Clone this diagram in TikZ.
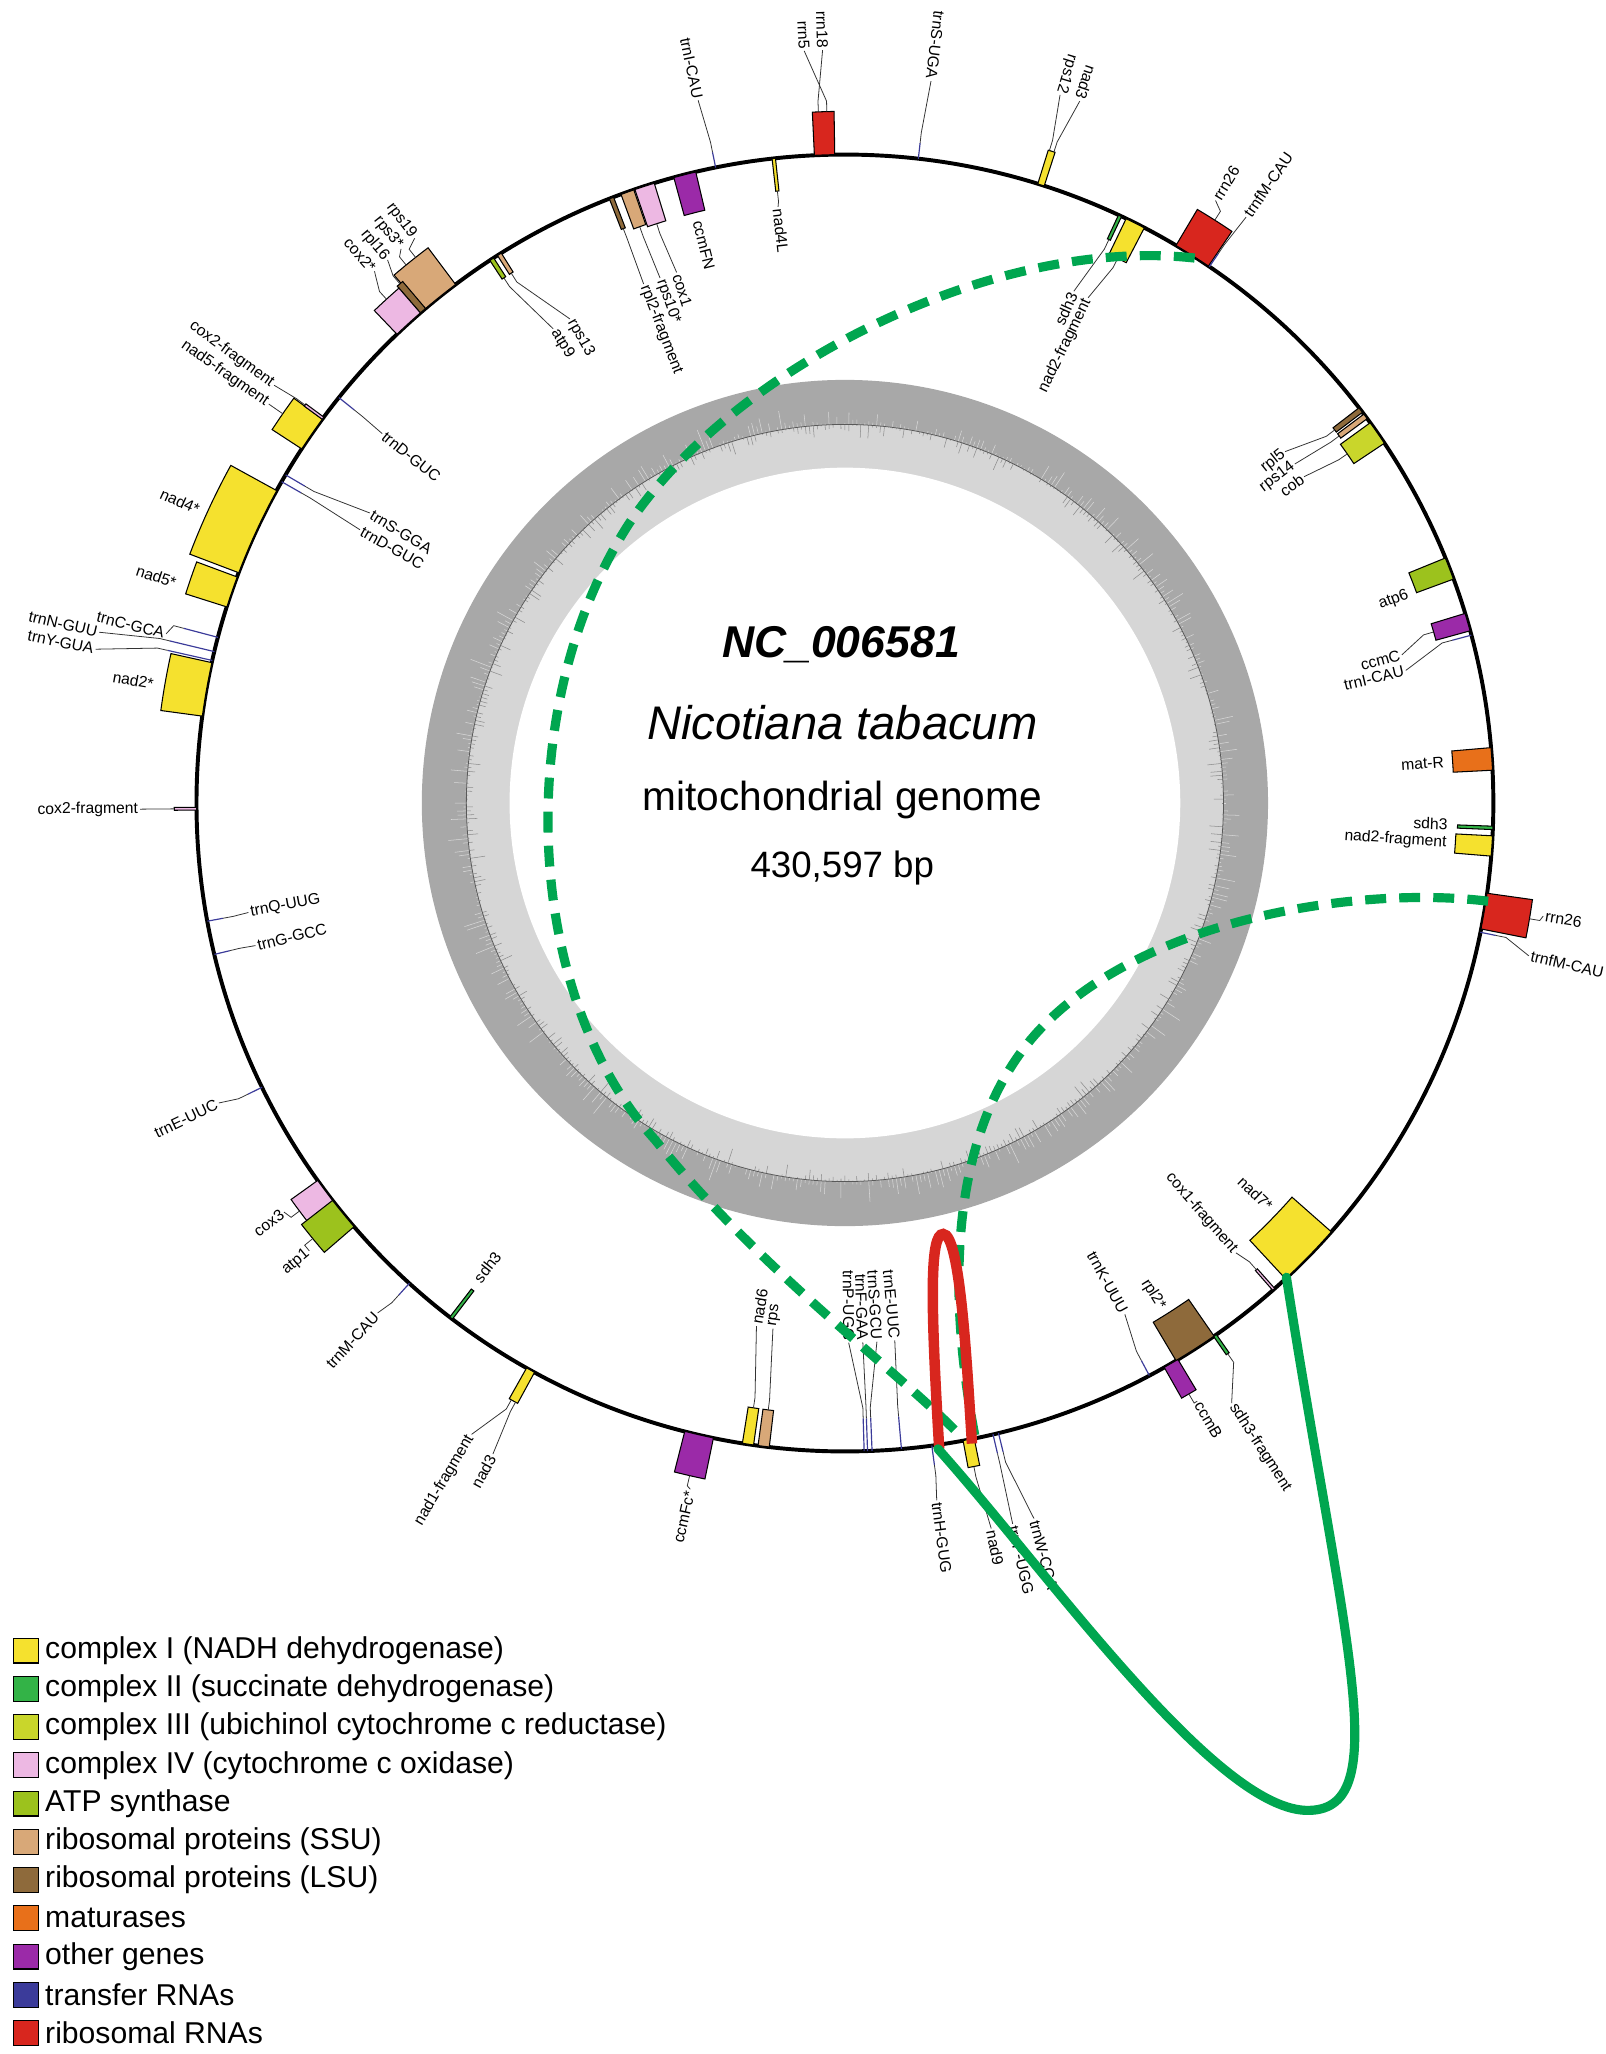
\documentclass[tikz,border=0pt]{standalone}
\usepackage{fontspec}
\setmainfont{Liberation Sans}
\definecolor{cI}{HTML}{F5E12E}
\definecolor{cII}{HTML}{33B347}
\definecolor{cIII}{HTML}{C9D62B}
\definecolor{cIV}{HTML}{EDB8E3}
\definecolor{atp}{HTML}{9CC21D}
\definecolor{ssu}{HTML}{D8A878}
\definecolor{lsu}{HTML}{8E6A3B}
\definecolor{mat}{HTML}{E8701A}
\definecolor{oth}{HTML}{9B2AA8}
\definecolor{trn}{HTML}{3B3B9A}
\definecolor{rrna}{HTML}{D8261E}
\definecolor{gdark}{HTML}{A8A8A8}
\definecolor{glight}{HTML}{D6D6D6}
\definecolor{gline}{HTML}{00A650}
\tikzset{
 lab/.style={inner sep=1.5pt,font=\fontsize{12}{14}\selectfont},
 leader/.style={line width=0.6pt,black!80},
 genebox/.style={draw=black,line width=0.8pt},
 trnline/.style={draw=trn,line width=0.9pt},
 legbox/.style={draw=black,line width=0.8pt,minimum size=19pt,inner sep=0pt},
 legtext/.style={anchor=west,font=\fontsize{23}{26}\selectfont},
}
\newcommand\gbox[5]{\filldraw[genebox,fill=#5] (#1-#2:#3) arc[start angle=#1-#2,end angle=#1+#2,radius=#3] -- (#1+#2:#4) arc[start angle=#1+#2,end angle=#1-#2,radius=#4] -- cycle;}
\newcommand\trna[3]{\draw[trnline] (#1:#2) -- (#1:#3);}
\newcommand\placelab[4]{%
 \pgfmathsetmacro\ca{cos(#1)}\pgfmathsetmacro\sa{sin(#1)}%
 \pgfmathtruncatemacro\flip{#3>0 ? or(\ca<0,\sa>0.92) : (\ca<0)}%
 \pgfmathtruncatemacro\inw{#3<0?1:0}%
 \pgfmathsetmacro\rot{\flip==1?#1+180:#1}%
 \ifnum\flip=\inw\def\anc{west}\else\def\anc{east}\fi
 \node[lab,rotate=\rot,anchor=\anc] at (#1:#2) {#4};}
\newcommand\glab[5]{%
 \pgfmathtruncatemacro\dd{#4>#2?1:-1}%
 \pgfmathsetmacro\rmid{#2+\dd*8}%
 \draw[leader] (#1:#2) -- (#1:\rmid) -- (#3:#4);
 \placelab{#3}{#4}{\dd}{#5}}
\newcommand\nlab[4]{\placelab{#1}{#2}{#3}{#4}}
\begin{document}
\begin{tikzpicture}[x=1pt,y=1pt]
\useasboundingbox (0,0) rectangle (1226,-1568);
\begin{scope}[shift={(645,-613)}]
% GC ring
\fill[gdark] (0,0) circle[radius=323];
\fill[glight] (0,0) circle[radius=289];
\fill[white] (0,0) circle[radius=256];
\pgfmathsetseed{7}
\foreach \a in {0,0.6,...,359.4}{
 \pgfmathsetmacro\h{rnd*rnd*18}
 \draw[white!70!gray,line width=0.4pt] (\a:289) -- (\a:289+\h);
 \pgfmathsetmacro\k{rnd*rnd*12}
 \draw[gray!90,line width=0.4pt] (\a:289) -- (\a:289-\k);
}
\draw[gray!70!black,line width=0.6pt] (0,0) circle[radius=289];
% main circle
\draw[line width=3pt] (0,0) circle[radius=495];
% ---- outside features
\gbox{91.8}{0.9}{495}{528}{rrna}
\glab{92.2}{528}{91.7}{575}{rrn18}
\glab{91.5}{528}{93.1}{575}{rrn5}
\trna{101.5}{495}{507}
\glab{101.5}{507}{101.8}{548}{trnI-CAU}
\trna{83.5}{495}{507}
\glab{83.5}{507}{83.2}{555}{trnS-UGA}
\gbox{72.4}{0.3}{495}{522}{cI}
\glab{72.6}{522}{73.1}{565}{rps12}
\glab{72.2}{522}{71.5}{565}{nad3}
\gbox{57.6}{1.7}{495}{527}{rrna}
\trna{55.8}{495}{507}
\glab{57.6}{527}{58.4}{540}{rrn26}
\glab{55.8}{507}{55.6}{542}{trnfM-CAU}
\gbox{-9.6}{1.6}{495}{530}{rrna}
\trna{-11.5}{495}{507}
\glab{-9.6}{530}{-9.2}{540}{rrn26}
\glab{-11.5}{507}{-12.6}{535}{trnfM-CAU}
\gbox{-59.8}{0.7}{495}{522}{oth}
\glab{-59.8}{522}{-59.5}{530}{ccmB}
\gbox{-55.2}{0.15}{495}{512}{cII}
\glab{-55.2}{512}{-57.2}{545}{sdh3-fragment}
\gbox{281}{0.5}{495}{516}{cI}
\trna{283.2}{495}{510}
\trna{283.7}{495}{510}
\trna{277.7}{495}{510}
\glab{277.7}{510}{277.5}{537}{trnH-GUG}
\glab{281}{516}{281.4}{565}{nad9}
\glab{283.2}{510}{283.1}{565}{trnP-UGG}
\glab{283.7}{510}{284.8}{565}{trnW-CCA}
\gbox{257}{1.3}{495}{527}{oth}
\glab{257}{527}{257.3}{537}{ccmFc*}
\gbox{241}{0.4}{495}{522}{cI}
\glab{241.2}{522}{241.6}{565}{nad3}
\glab{240.8}{522}{239.4}{560}{nad1-fragment}
\trna{227.8}{495}{507}
\glab{227.8}{507}{227.5}{528}{trnM-CAU}
\gbox{216.8}{1.2}{495}{520}{cIV}
\gbox{219.3}{1.5}{495}{525}{atp}
\glab{216.8}{520}{216.1}{530}{cox3}
\glab{219.3}{525}{219.9}{533}{atp1}
\trna{206}{495}{507}
\glab{206}{507}{205.6}{530}{trnE-UUC}
\gbox{180.5}{0.12}{495}{512}{cIV}
\glab{180.5}{512}{180.5}{538}{cox2-fragment}
\gbox{169.9}{2.4}{495}{527}{cI}
\nlab{170.2}{534}{1}{nad2*}
\trna{165.2}{495}{522}
\glab{165.2}{522}{166.0}{534}{trnC-GCA}
\trna{166.5}{495}{530}
\glab{166.5}{530}{167.1}{584}{trnN-GUU}
\trna{167.3}{495}{530}
\glab{167.3}{530}{168.4}{584}{trnY-GUA}
\gbox{161}{1.4}{495}{528}{cI}
\nlab{161.8}{536}{1}{nad5*}
\gbox{155.2}{4.0}{495}{535}{cI}
\nlab{155.6}{540}{1}{nad4*}
\gbox{145.3}{1.6}{495}{522}{cI}
\gbox{143.6}{0.12}{495}{512}{cIV}
\glab{143.6}{512}{143.8}{540}{cox2-fragment}
\glab{145.3}{522}{145.3}{535}{nad5-fragment}
\gbox{128.7}{1.8}{495}{530}{ssu}
\gbox{130.6}{0.3}{495}{522}{lsu}
\gbox{132.3}{1.4}{495}{520}{cIV}
\glab{128.2}{530}{127.3}{542}{rps19}
\glab{129.2}{530}{128.7}{542}{rps3*}
\glab{130.6}{522}{130.1}{542}{rpl16}
\glab{132.3}{520}{131.5}{542}{cox2*}
% ---- inside features
\gbox{122.2}{0.2}{478}{495}{ssu}
\gbox{123}{0.2}{478}{495}{atp}
\glab{122.2}{478}{119.6}{425}{rps13}
\glab{123}{478}{121.6}{425}{atp9}
\gbox{108}{0.9}{465}{495}{cIV}
\gbox{109.6}{0.6}{467}{495}{ssu}
\gbox{111.1}{0.2}{470}{495}{lsu}
\glab{108}{465}{107.6}{425}{cox1}
\glab{109.6}{467}{109.4}{425}{rps10*}
\glab{111.1}{470}{111.2}{425}{rpl2-fragment}
\gbox{104.3}{1}{465}{495}{oth}
\nlab{104.2}{460}{-1}{ccmFN}
\gbox{96.3}{0.15}{470}{495}{cI}
\glab{96.3}{470}{96.4}{458}{nad4L}
\gbox{64.9}{0.15}{475}{495}{cII}
\gbox{63.4}{0.9}{465}{495}{cI}
\glab{64.9}{475}{65.9}{428}{sdh3}
\glab{63.4}{465}{64.3}{428}{nad2-fragment}
\gbox{37.3}{0.25}{470}{495}{lsu}
\gbox{36.6}{0.25}{470}{495}{ssu}
\gbox{34.8}{1.1}{467}{495}{cIII}
\glab{37.3}{470}{38.6}{430}{rpl5}
\glab{36.6}{470}{37.0}{430}{rps14}
\glab{34.8}{467}{35.4}{430}{cob}
\gbox{21.2}{1}{465}{495}{atp}
\nlab{20.3}{460}{-1}{atp6}
\gbox{16.2}{0.8}{468}{495}{oth}
\trna{15}{480}{495}
\glab{16.2}{468}{14.9}{440}{ccmC}
\glab{15}{480}{13.3}{440}{trnI-CAU}
\gbox{3.9}{1}{465}{495}{mat}
\nlab{3.9}{460}{-1}{mat-R}
\gbox{-2.2}{0.15}{468}{495}{cII}
\gbox{-3.8}{0.9}{467}{495}{cI}
\nlab{-2.0}{462}{-1}{sdh3}
\nlab{-3.8}{462}{-1}{nad2-fragment}
\gbox{-44.3}{2.9}{455}{495}{cI}
\nlab{-43.6}{450}{-1}{nad7*}
\gbox{-48.6}{0.12}{475}{495}{cIV}
\glab{-48.6}{475}{-49.0}{455}{cox1-fragment}
\gbox{-57.3}{2}{461}{495}{lsu}
\nlab{-57.9}{457}{-1}{rpl2*}
\trna{-62}{482}{495}
\glab{-62}{482}{-61.3}{445}{trnK-UUU}
\gbox{261.4}{0.5}{467}{495}{cI}
\gbox{262.8}{0.5}{467}{495}{ssu}
\glab{261.4}{467}{260.4}{405}{nad6}
\glab{262.8}{467}{262.2}{405}{rps}
\trna{271.7}{470}{495}
\trna{272.0}{470}{495}
\trna{272.4}{470}{495}
\trna{275.0}{470}{495}
\glab{271.7}{470}{270.4}{412}{trnP-UGG}
\glab{272.0}{470}{271.9}{412}{trnF-GAA}
\glab{272.4}{470}{273.4}{412}{trnS-GCU}
\glab{275.0}{470}{275.3}{412}{trnE-UUC}
\gbox{232.6}{0.15}{468}{495}{cII}
\nlab{232.4}{462}{-1}{sdh3}
\trna{190.5}{483}{495}
\trna{193.5}{483}{495}
\glab{190.5}{483}{190.4}{463}{trnQ-UUG}
\glab{193.5}{483}{193.6}{463}{trnG-GCC}
\trna{149.6}{478}{495}
\trna{150.3}{478}{495}
\glab{149.6}{478}{148.6}{425}{trnS-GGA}
\glab{150.3}{478}{150.6}{425}{trnD-GUC}
\trna{141.3}{480}{495}
\glab{141.3}{480}{141.4}{452}{trnD-GUC}
\end{scope}
% centre text
\node (acc) at (642,-492) {\fontsize{34}{38}\selectfont\bfseries\itshape NC\_006581};
\node (sp) at (643,-552) {\fontsize{36}{40}\selectfont\itshape Nicotiana tabacum};
\node (mt) at (643,-611) {\fontsize{31}{35}\selectfont mitochondrial genome};
\node (bp) at (643,-663) {\fontsize{28}{32}\selectfont 430,597 bp};
% connections
\coordinate (a1) at (912,-197);
\coordinate (a2) at (735,-1098);
\coordinate (b1) at (1136,-688);
\coordinate (b2) at (745,-1100);
\coordinate (r1) at (717,-1106);
\coordinate (r2) at (742,-1102);
\coordinate (g1) at (716,-1106);
\coordinate (g2) at (982,-975);
\draw[gline,line width=7pt,dash pattern=on 16pt off 10pt] (a1) .. controls (760,-180) and (560,-280) .. (480,-400) .. controls (390,-540) and (400,-760) .. (500,-870) .. controls (580,-970) and (690,-1050) .. (a2);
\draw[gline,line width=7pt,dash pattern=on 16pt off 10pt] (b1) .. controls (1040,-676) and (870,-700) .. (790,-790) .. controls (720,-870) and (725,-1000) .. (b2);
\draw[rrna,line width=8pt] (r1) .. controls (710,-990) and (710,-942) .. (720,-942) .. controls (733,-942) and (738,-1040) .. (r2);
\draw[gline,line width=7pt,line cap=round] (g1) .. controls (800,-1200) and (930,-1385) .. (1000,-1382) .. controls (1065,-1380) and (1025,-1250) .. (g2);
% legend
\foreach \c/\t [count=\i] in {cI/complex I (NADH dehydrogenase),cII/complex II (succinate dehydrogenase),cIII/complex III (ubichinol cytochrome c reductase),cIV/complex IV (cytochrome c oxidase),atp/ATP synthase,ssu/ribosomal proteins (SSU),lsu/ribosomal proteins (LSU),mat/maturases,oth/other genes,trn/transfer RNAs,rrna/ribosomal RNAs}{
 \node[legbox,fill=\c] (lb\i) at (20,{-1260-29.2*(\i-1)}) {};
 \node[legtext] (lt\i) at (31,{-1260-29.2*(\i-1)}) {\t};
}
\end{tikzpicture}
\end{document}
